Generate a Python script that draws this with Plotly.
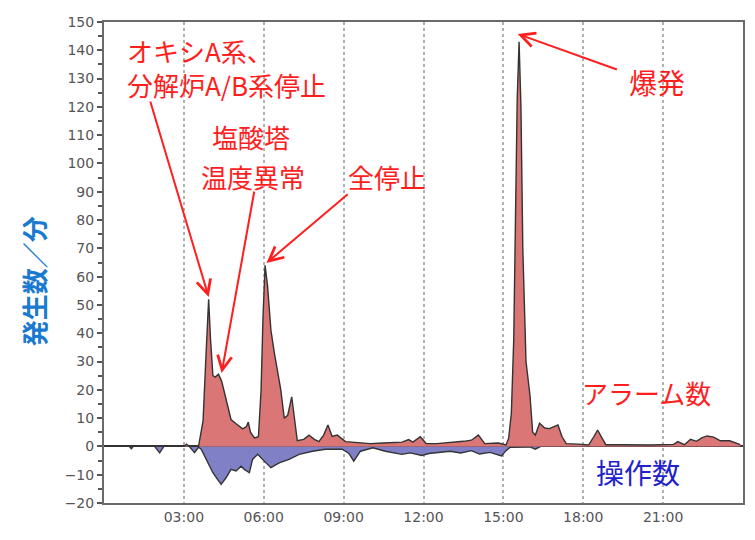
import plotly.graph_objects as go

# ---- data (hours since 00:00, counts per minute) ----
alarm_hours = [0, 3.0, 3.1, 3.2, 3.55, 3.62, 3.72, 3.82, 3.93, 4.0, 4.09, 4.18, 4.3, 4.42, 4.55,
               4.65, 4.77, 4.96, 5.1, 5.21, 5.35, 5.42, 5.5, 5.65, 5.8, 5.9, 5.97, 6.05, 6.14,
               6.27, 6.4, 6.55, 6.64, 6.77, 6.9, 7.05, 7.15, 7.26, 7.5, 7.7, 7.9, 8.07, 8.25,
               8.41, 8.57, 8.76, 9.07, 9.5, 10.0, 10.5, 11.0, 11.2, 11.44, 11.6, 11.88, 12.1,
               12.5, 13.0, 13.5, 13.8, 14.06, 14.3, 14.8, 15.1, 15.2, 15.3, 15.39, 15.46, 15.52,
               15.59, 15.66, 15.73, 15.85, 16.0, 16.1, 16.2, 16.36, 16.55, 16.73, 16.9, 17.05,
               17.2, 17.36, 17.8, 18.2, 18.4, 18.54, 18.7, 18.85, 19.5, 20.5, 21.4, 21.55, 21.8,
               22.03, 22.25, 22.45, 22.65, 22.9, 23.15, 23.5, 23.9]
alarm_counts = [0, 0, 0.8, 0, 0, 4, 9, 30, 52, 38, 25, 24.5, 25.5, 23, 18,
                14, 9.5, 8, 7, 6.2, 7, 8.6, 5, 3, 3.4, 20, 45, 64, 57,
                41, 33, 25, 20, 10, 11, 17.5, 11, 2, 2.5, 4, 2.5, 1.7, 4,
                7.6, 3.5, 4, 1.7, 1.5, 1, 1.2, 1.3, 1.5, 2.4, 1.5, 3.4, 1,
                1, 1.3, 1.8, 2.2, 4, 1, 1.2, 0.5, 3, 11.8, 38, 84, 123,
                143, 120, 70, 30, 18, 5, 4, 8.2, 6.5, 6.3, 7, 7.6,
                3.5, 1, 0.8, 0.5, 3.5, 5.8, 3, 0.6, 0.6, 0.5, 0.7, 1.7, 0.6,
                2.5, 1.8, 3, 3.7, 3.3, 2, 2, 0.6]

operation_hours = [0, 0.95, 1.03, 1.1, 1.9, 2.09, 2.25, 3.2, 3.4, 3.55, 3.65, 3.84, 4.09, 4.25,
                   4.4, 4.59, 4.77, 4.96, 5.15, 5.27, 5.46, 5.58, 5.77, 6.02, 6.27, 6.58, 6.95,
                   7.33, 7.83, 8.32, 8.95, 9.2, 9.38, 9.63, 10.1, 10.57, 10.9, 11.19, 11.5, 11.94,
                   12.2, 12.5, 13.0, 13.4, 13.8, 14.1, 14.5, 14.93, 15.1, 15.25, 16.0, 16.2, 16.4, 24]
operation_counts = [0, 0, -0.8, 0, 0, -2.3, 0, 0, -2.2, -0.3, -1, -4.6, -9.3, -11.5,
                    -13.4, -11, -8.1, -8.7, -7, -8.1, -9.3, -4.6, -2.8, -5.2, -7.5, -5.8, -4.6,
                    -2.8, -1.7, -1, -1, -2.5, -5.2, -1.7, -0.5, -1.7, -2.3, -2.8, -2.3, -3.2,
                    -2.5, -2.3, -1.7, -2.3, -1.5, -2.7, -2.1, -3.4, -1.5, -0.3, -0.2, -1, 0, 0]

x_tick_vals = [3, 6, 9, 12, 15, 18, 21]
x_tick_text = ["03:00", "06:00", "09:00", "12:00", "15:00", "18:00", "21:00"]

# ---- layout geometry (page pixels; the page body has an 8px margin) ----
OFF = 8
W, H = 739, 524
PX0, PX1, PY0, PY1 = 104, 745, 22, 503          # plot area on the page
L, T = PX0 - OFF, PY0 - OFF
R, B = W - (PX1 - OFF), H - (PY1 - OFF)
X0, X1, Y0, Y1 = 0, 24, -20, 150
pw, ph = PX1 - PX0, PY1 - PY0


def px(x, y):
    """page pixel -> data coordinates"""
    return (X0 + (x - PX0) / pw * (X1 - X0), Y1 - (y - PY0) / ph * (Y1 - Y0))


fig = go.Figure()
fig.add_trace(go.Scatter(x=operation_hours, y=operation_counts, mode="lines", fill="tozeroy",
                         fillcolor="rgb(128,128,198)", line=dict(color="#333333", width=1.4),
                         hoverinfo="skip", showlegend=False))
fig.add_trace(go.Scatter(x=alarm_hours, y=alarm_counts, mode="lines", fill="tozeroy",
                         fillcolor="rgb(218,118,118)", line=dict(color="#333333", width=1.4),
                         hoverinfo="skip", showlegend=False))

red = "#ff1e1e"
font_jp = "Noto Sans CJK JP"
texts = [
    ("オキシA系、<br>分解炉A/B系停止", 125, 67, "left", red, 26),
    ("塩酸塔", 251, 136, "center", red, 26),
    ("温度異常", 253, 176, "center", red, 26),
    ("全停止", 388, 176, "center", red, 26),
    ("爆発", 659, 82, "center", red, 28),
    ("アラーム数", 648, 392, "center", red, 26),
    ("操作数", 640, 472, "center", "#2222cc", 28),
]
annotations = []
for t, x, y, anc, col, fs in texts:
    dx, dy = px(x, y)
    annotations.append(dict(x=dx, y=dy, xref="x", yref="y", text=t, showarrow=False,
                            xanchor=anc, yanchor="middle", align="left",
                            font=dict(family=font_jp, size=fs, color=col)))

arrows = [((150, 100), (209, 297)),
          ((255, 190), (222, 373)),
          ((350, 193), (267, 263)),
          ((620, 70), (519, 34))]
for (tx, ty), (hx, hy) in arrows:
    a = px(tx, ty)
    h = px(hx, hy)
    annotations.append(dict(x=h[0], y=h[1], xref="x", yref="y", ax=a[0], ay=a[1],
                            axref="x", ayref="y", text="", showarrow=True,
                            arrowhead=5, arrowsize=1.4, arrowwidth=2, arrowcolor=red))

annotations.append(dict(x=(33 - PX0) / pw, y=(PY1 - 281) / ph, xref="paper", yref="paper",
                        text="<b>発生数／分</b>", textangle=-90, showarrow=False,
                        xanchor="center", yanchor="middle",
                        font=dict(family=font_jp, size=26, color="#1a7ad0")))

tick_font = dict(family="DejaVu Sans", size=14, color="#555555")
fig.update_layout(
    width=W, height=H,
    margin=dict(l=L, r=R, t=T, b=B, pad=0),
    paper_bgcolor="white", plot_bgcolor="white",
    annotations=annotations,
    xaxis=dict(range=[X0, X1], tickvals=x_tick_vals, ticktext=x_tick_text,
               showgrid=True, gridcolor="#b0b0b0", griddash="dot", gridwidth=1.5,
               showline=True, linecolor="#6a6a6a", linewidth=2, mirror=True,
               ticks="", zeroline=False, tickfont=tick_font),
    yaxis=dict(range=[Y0, Y1], dtick=10, tick0=0, showgrid=False,
               showline=True, linecolor="#6a6a6a", linewidth=2, mirror=True,
               ticks="outside", ticklen=5, tickwidth=2, tickcolor="#555555",
               minor=dict(dtick=5, ticks="outside", ticklen=4, tickwidth=2, tickcolor="#555555"),
               zeroline=True, zerolinecolor="#333333", zerolinewidth=2, tickfont=tick_font),
)

fig.write_html("out.html")
